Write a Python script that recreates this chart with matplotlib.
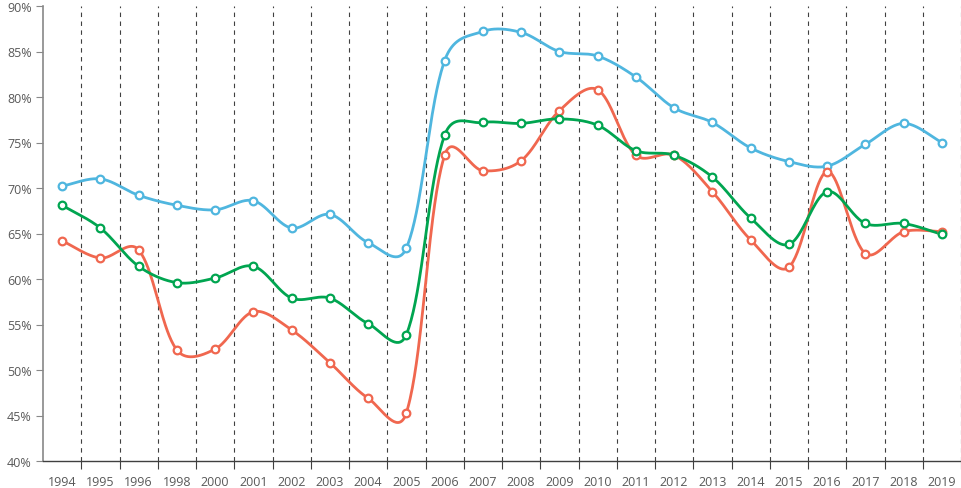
import numpy as np
import matplotlib.pyplot as plt
from matplotlib.ticker import FixedLocator, PercentFormatter

# categorias (faltan 1997 y 1999 en el original)
years = ["1994", "1995", "1996", "1998", "2000", "2001", "2002", "2003", "2004", "2005",
         "2006", "2007", "2008", "2009", "2010", "2011", "2012", "2013", "2014", "2015",
         "2016", "2017", "2018", "2019"]

serie_azul = [70.2, 71.0, 69.2, 68.1, 67.6, 68.6, 65.6, 67.1, 64.0, 63.4,
              84.0, 87.2, 87.1, 85.0, 84.5, 82.2, 78.8, 77.2, 74.4, 72.9,
              72.4, 74.8, 77.1, 75.0]
serie_roja = [64.2, 62.3, 63.2, 52.2, 52.3, 56.4, 54.4, 50.8, 46.9, 45.3,
              73.6, 71.9, 73.0, 78.5, 80.8, 73.6, 73.6, 69.6, 64.3, 61.3,
              71.8, 62.8, 65.2, 65.2]
serie_verde = [68.1, 65.6, 61.4, 59.6, 60.1, 61.4, 57.9, 57.9, 55.1, 53.9,
               75.8, 77.2, 77.1, 77.6, 76.9, 74.1, 73.6, 71.2, 66.7, 63.8,
               69.6, 66.1, 66.1, 64.9]

# escala aproximada en pixeles (para que el suavizado se parezca al de Excel)
px_x = 38.25
px_y = 9.1
mezcla = 0.5  # 0 = catmull-rom uniforme, 1 = brazos proporcionales al tramo


def suavizar(y, n=40):
    y = np.asarray(y, dtype=float)
    x = np.arange(len(y), dtype=float)
    P = np.column_stack([x * px_x, y * px_y])
    m = len(P)
    salida = []
    entrada = []
    for i in range(m):
        a = P[i - 1] if i > 0 else P[i]
        b = P[i + 1] if i < m - 1 else P[i]
        T = b - a
        d_in = np.hypot(*(P[i] - a))
        d_out = np.hypot(*(b - P[i]))
        tot = d_in + d_out
        if tot == 0:
            salida.append(P[i]); entrada.append(P[i]); continue
        f_out = (1 - mezcla) * 0.5 + mezcla * d_out / tot
        f_in = (1 - mezcla) * 0.5 + mezcla * d_in / tot
        salida.append(P[i] + T * f_out / 3)
        entrada.append(P[i] - T * f_in / 3)
    pts = []
    t = np.linspace(0, 1, n, endpoint=False)[:, None]
    for i in range(m - 1):
        p1, c1, c2, p2 = P[i], salida[i], entrada[i + 1], P[i + 1]
        seg = (1 - t)**3 * p1 + 3 * (1 - t)**2 * t * c1 + 3 * (1 - t) * t**2 * c2 + t**3 * p2
        pts.append(seg)
    pts.append(P[-1:])
    pts = np.vstack(pts)
    return pts[:, 0] / px_x, pts[:, 1] / px_y


plt.rcParams['font.family'] = ['Open Sans', 'DejaVu Sans']

fig = plt.figure(figsize=(9.61, 4.89), dpi=100)
ax = fig.add_axes([43 / 961, 1 - 462 / 489, 918 / 961, 455 / 489])

x = np.arange(len(years))
series = [(serie_azul, "#4FB6DF"), (serie_roja, "#F0674F"), (serie_verde, "#00A550")]
for vals, col in series:
    xs, ys = suavizar(vals)
    ax.plot(xs, ys, color=col, lw=2.0, zorder=3)
    ax.plot(x, vals, "o", ms=5.5, mfc="white", mec=col, mew=1.6, zorder=4)

ax.set_xlim(-0.5, len(years) - 0.5)
ax.set_ylim(40, 90)
ax.set_yticks(np.arange(40, 91, 5))
ax.yaxis.set_major_formatter(PercentFormatter(decimals=0))
ax.set_xticks(x)
ax.set_xticklabels(years)
ax.xaxis.set_minor_locator(FixedLocator(np.arange(0.5, len(years), 1.0)))
ax.grid(which="minor", axis="x", color="#404040", lw=0.8, ls=(0, (4, 4)))
ax.tick_params(axis="x", which="major", length=0, labelsize=9, labelcolor="#595959", pad=10)
ax.tick_params(axis="x", which="minor", length=6, color="#404040", width=0.8)
ax.tick_params(axis="y", length=5, color="#888888", labelsize=9, labelcolor="#595959", pad=3)

for s in ["top", "right"]:
    ax.spines[s].set_visible(False)
ax.spines["left"].set_color("#888888")
ax.spines["left"].set_linewidth(1.2)
ax.spines["bottom"].set_color("#404040")
ax.spines["bottom"].set_linewidth(1.0)

fig.savefig("out.png", dpi=100)
